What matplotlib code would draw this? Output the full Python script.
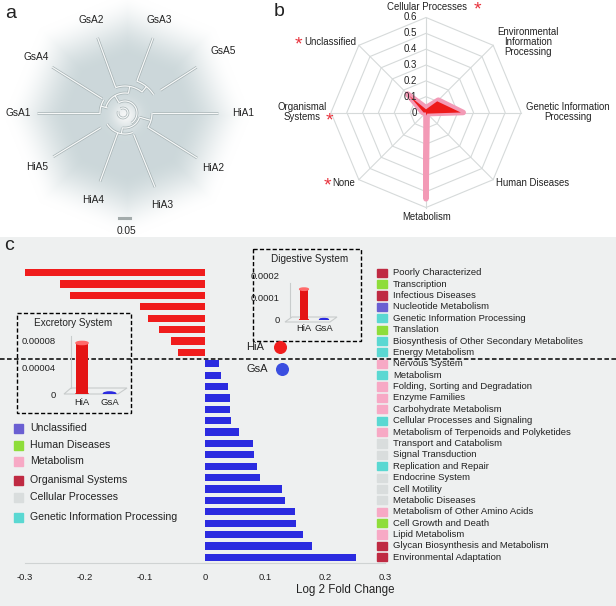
import numpy as np
import matplotlib.pyplot as plt
from matplotlib.patches import Rectangle, Ellipse, Polygon
from matplotlib.transforms import blended_transform_factory

plt.rcParams['font.family'] = ['Liberation Sans', 'DejaVu Sans']

W, H = 616, 606

# ---- panel a: tree ----
leaf_names = ['GsA2', 'GsA3', 'GsA5', 'GsA4', 'GsA1', 'HiA1', 'HiA2', 'HiA3', 'HiA4', 'HiA5']
leaf_angles = [110, 69.5, 32.6, 147.8, 180, 0, -32, -68, -110, -148.6]
leaf_base = [27, 34, 42, 27, 25, 27, 27, 23, 21, 28]
leaf_tip = [80, 80, 85, 86, 88, 93, 85, 80, 73, 84]
# internal arcs (radius, from angle, to angle) and stems (angle, r0, r1)
tree_arcs = [(34, 32.6, 69.5), (27, 51, 110), (25, 147.8, 180), (20, 80, 164),
             (27, -32, 0), (21, -148.6, -68), (15, -100, -16), (12, -58, 120)]
tree_stems = [(51, 27, 34), (80, 20, 27), (164, 18, 25), (120, 12, 20),
              (-16, 15, 27), (-100, 15, 21)]

# ---- panel b: radar ----
radar_cats = ['Cellular Processes', 'Environmental\nInformation\nProcessing',
              'Genetic Information\nProcessing', 'Human Diseases', 'Metabolism',
              'None', 'Organismal\nSystems', 'Unclassified']
radar_pink = [0.03, 0.11, 0.235, 0.01, 0.545, 0.0, 0.02, 0.165]
radar_red = [0.02, 0.10, 0.22, 0.01, 0.02, 0.0, 0.015, 0.15]
radar_ticks = [0, 0.1, 0.2, 0.3, 0.4, 0.5, 0.6]

# ---- panel c: bars ----
row_labels = ['Poorly Characterized', 'Transcription', 'Infectious Diseases',
              'Nucleotide Metabolism', 'Genetic Information Processing', 'Translation',
              'Biosynthesis of Other Secondary Metabolites', 'Energy Metabolism',
              'Nervous System', 'Metabolism', 'Folding, Sorting and Degradation',
              'Enzyme Families', 'Carbohydrate Metabolism', 'Cellular Processes and Signaling',
              'Metabolism of Terpenoids and Polyketides', 'Transport and Catabolism',
              'Signal Transduction', 'Replication and Repair', 'Endocrine System',
              'Cell Motility', 'Metabolic Diseases', 'Metabolism of Other Amino Acids',
              'Cell Growth and Death', 'Lipid Metabolism',
              'Glycan Biosynthesis and Metabolism', 'Environmental Adaptation']
row_values = [-0.300, -0.242, -0.225, -0.108, -0.095, -0.077, -0.056, -0.045,
              0.023, 0.026, 0.039, 0.041, 0.041, 0.043, 0.057, 0.080, 0.081,
              0.087, 0.091, 0.128, 0.134, 0.150, 0.151, 0.163, 0.179, 0.251]
row_groups = ['org', 'hum', 'org', 'unc', 'gen', 'hum', 'gen', 'gen',
              'met', 'gen', 'met', 'met', 'met', 'gen', 'met', 'cel',
              'cel', 'gen', 'cel', 'cel', 'cel', 'met', 'hum', 'met', 'org', 'org']
legend_keys = ['unc', 'hum', 'met', 'org', 'cel', 'gen']
legend_names = ['Unclassified', 'Human Diseases', 'Metabolism', 'Organismal Systems',
                'Cellular Processes', 'Genetic Information Processing']
group_colors = {'unc': '#6a5fd2', 'hum': '#8edd3a', 'met': '#f7a9c5',
                'org': '#bf2a42', 'cel': '#d9dddd', 'gen': '#5ad8d2'}

inset_groups = ['HiA', 'GsA']
excretory = [0.000077, 0.0000006]
digestive = [0.000140, 0.0000012]

fig = plt.figure(figsize=(6.16, 6.06), dpi=100)


def px_axes(x0, y0, x1, y1, z=0):
    return fig.add_axes([x0 / W, 1 - y1 / H, (x1 - x0) / W, (y1 - y0) / H], zorder=z)


bg = px_axes(0, 0, W, H, 0)
bg.axis('off')

# panel c background
bg.add_patch(Rectangle((0, 237), W, H - 237, color='#eef0f0', lw=0))

# --- tree background gradient (octagonal glow)
cx, cy = 127, 115
xx, yy = np.meshgrid(np.arange(0, 265), np.arange(0, 237))
dx, dy = xx - cx, cy - yy
d = np.zeros_like(dx, dtype=float)
for k in range(8):
    th = np.deg2rad(22.5 + 45 * k)
    d = np.maximum(d, dx * np.cos(th) + dy * np.sin(th))
d = d / (118 * np.cos(np.deg2rad(22.5)))
t = np.clip((d - 0.5) / 0.55, 0, 1)
t = t * t * (3 - 2 * t)
glow = np.exp(-((dx + 2) ** 2 + dy ** 2) / (2 * 9.0 ** 2))
img = np.ones(d.shape + (3,))
base = np.array([0.80, 0.845, 0.855])
for c in range(3):
    v = base[c] + (1 - base[c]) * t
    img[..., c] = v + (0.98 - v) * glow * 0.9
bg.imshow(img, extent=(0, 265, 237, 0), zorder=0, interpolation='bilinear')
bg.set_xlim(0, W)
bg.set_ylim(H, 0)

tc = (125, 113)


def polar_pt(ang, r):
    a = np.deg2rad(ang)
    return tc[0] + r * np.cos(a), tc[1] - r * np.sin(a)


def tree_line(xs, ys):
    bg.plot(xs, ys, color='#a6b2b4', lw=1.9, zorder=2, solid_capstyle='butt')
    bg.plot(xs, ys, color='#f6f8f8', lw=0.9, zorder=3, solid_capstyle='butt')


label_gap = [19, 19, 31, 19, 19, 25, 19, 19, 20, 19]
for name, ang, r0, r1, gap in zip(leaf_names, leaf_angles, leaf_base, leaf_tip, label_gap):
    p0, p1 = polar_pt(ang, r0), polar_pt(ang, r1)
    tree_line([p0[0], p1[0]], [p0[1], p1[1]])
    lx, ly = polar_pt(ang, r1 + gap)
    bg.text(lx, ly, name, fontsize=7.3, ha='center', va='center', color='#222222', zorder=4)
for r, a0, a1 in tree_arcs:
    aa = np.linspace(a0, a1, 40)
    pts = np.array([polar_pt(a, r) for a in aa])
    tree_line(pts[:, 0], pts[:, 1])
for ang, r0, r1 in tree_stems:
    p0, p1 = polar_pt(ang, r0), polar_pt(ang, r1)
    tree_line([p0[0], p1[0]], [p0[1], p1[1]])
aa = np.linspace(-200, 120, 40)
pts = np.array([polar_pt(a, 5) for a in aa]) + np.array([-2, 0])
tree_line(pts[:, 0], pts[:, 1])

bg.plot([119, 130], [218, 218], color='#a3abab', lw=2.2)
bg.text(126, 231, '0.05', fontsize=7.3, ha='center', va='center', color='#222222')
bg.text(11, 13, 'a', fontsize=14, ha='center', va='center', color='#222222')

# --- radar
rc = (426, 112.5)
rs = 95 / 0.6
n = len(radar_cats)
angs = np.deg2rad(np.arange(n) * 360 / n)


def rpt(vals):
    v = np.asarray(vals)
    return rc[0] + v * rs * np.sin(angs), rc[1] - v * rs * np.cos(angs)


for tv in radar_ticks[1:]:
    gx, gy = rpt([tv] * n)
    bg.add_patch(Polygon(np.c_[gx, gy], closed=True, fill=False, ec='#d6dada', lw=0.8, zorder=1))
ox, oy = rpt([0.6] * n)
for k in range(n):
    bg.plot([rc[0], ox[k]], [rc[1], oy[k]], color='#d6dada', lw=0.8, zorder=1)
for tv in radar_ticks:
    bg.text(rc[0] - 9, rc[1] - tv * rs, f'{tv:g}', fontsize=7, ha='right', va='center',
            color='#222222', zorder=6)

px_, py_ = rpt(radar_pink)
bg.add_patch(Polygon(np.c_[px_, py_], closed=True, fc='#f8b6cb', ec='#f39ab6', lw=4,
                     joinstyle='round', zorder=3))
qx, qy = rpt(radar_red)
bg.add_patch(Polygon(np.c_[qx, qy], closed=True, fc='#ee1a1a', ec='none', zorder=4))

radar_label_xy = [(427, 7), (528, 42), (568, 112), (533, 183), (427, 217),
                  (344, 183), (302, 112), (330, 42)]
for lab, (lx, ly) in zip(radar_cats, radar_label_xy):
    bg.text(lx, ly, lab, fontsize=6.9, ha='center', va='center', color='#222222',
            linespacing=1.05, zorder=6)
star_xy = [(477, 10), (298, 45), (329, 121), (327, 186)]
for sx, sy in star_xy:
    bg.text(sx, sy, '*', fontsize=14, ha='center', va='center', color='#e8323c',
            zorder=6)
bg.text(279, 11, 'b', fontsize=14, ha='center', va='center', color='#222222')

# ---- panel c main bars
ax = px_axes(25, 262, 385, 563, 1)
ax.patch.set_alpha(0)
rows = np.arange(len(row_values))
colors = ['#f01c1c' if v < 0 else '#2b2be0' for v in row_values]
ax.barh(rows, row_values, height=0.64, color=colors)
ax.set_xlim(-0.3, 0.3)
ax.set_ylim(25.5, -0.94)
ax.set_yticks([])
ax.set_xticks([-0.3, -0.2, -0.1, 0, 0.1, 0.2, 0.3])
ax.set_xticklabels(['-0.3', '-0.2', '-0.1', '0', '0.1', '0.2', '0.3'])
ax.tick_params(axis='x', length=0, pad=7, labelsize=6.8, labelcolor='#222222')
for s in ['top', 'left', 'right']:
    ax.spines[s].set_visible(False)
ax.spines['bottom'].set_color('#cfd3d3')
ax.spines['bottom'].set_linewidth(0.8)

tr = blended_transform_factory(fig.transFigure, ax.transData)
for i, (lab, g) in enumerate(zip(row_labels, row_groups)):
    ax.add_patch(Rectangle((377 / W, i - 0.36), 10 / W, 0.72, transform=tr,
                           color=group_colors[g], clip_on=False))
    ax.text(393 / W, i, lab, transform=tr, fontsize=6.8, va='center', ha='left',
            color='#222222', clip_on=False)

# ---- overlay
ov = px_axes(0, 0, W, H, 2)
ov.patch.set_alpha(0)
ov.set_xlim(0, W)
ov.set_ylim(H, 0)
ov.axis('off')

ov.text(9, 246, 'c', fontsize=14, ha='center', va='center', color='#222222')
ov.plot([0, W], [359, 359], color='black', lw=1.1, ls=(0, (3, 1.6)))
ov.text(345, 590, 'Log 2 Fold Change', fontsize=8.3, ha='center', va='center', color='#222222')

legend_y = [428, 445, 461, 480, 497, 517]
for k, nm, y in zip(legend_keys, legend_names, legend_y):
    ov.add_patch(Rectangle((14, y - 4.5), 9, 9, color=group_colors[k]))
    ov.text(30, y, nm, fontsize=7.6, va='center', ha='left', color='#222222')

ov.scatter([280], [347], s=70, color='#f01c1c', zorder=5)
ov.scatter([282], [369], s=70, color='#3a4ee0', zorder=5)
ov.text(255, 347, 'HiA', fontsize=8, ha='center', va='center', color='#222222')
ov.text(257, 369, 'GsA', fontsize=8, ha='center', va='center', color='#222222')

ov.add_patch(Rectangle((17, 313), 114, 100, fill=False, ec='black', lw=1, ls=(0, (3, 1.6))))
ov.text(73, 323, 'Excretory System', fontsize=7.2, ha='center', va='center', color='#222222')
ov.add_patch(Rectangle((253, 249), 108, 92, fill=False, ec='black', lw=1, ls=(0, (3, 1.6))))
ov.text(310, 259, 'Digestive System', fontsize=7.2, ha='center', va='center', color='#222222')


def inset(box, vals, ylim, ticks, ticklabels, xlim, frame_x, floor):
    a = px_axes(*box, z=3)
    a.patch.set_alpha(0)
    a.set_xlim(*xlim)
    a.set_ylim(*ylim)
    for s in a.spines.values():
        s.set_visible(False)
    a.set_yticks(ticks)
    a.set_yticklabels(ticklabels)
    a.set_xticks([0, 1])
    a.set_xticklabels(inset_groups)
    a.tick_params(length=0, labelsize=6.8, labelcolor='#222222')
    a.tick_params(axis='y', pad=3)
    a.tick_params(axis='x', pad=3)
    a.plot(*frame_x, transform=ov.transData, color='#c8cccc', lw=0.8, clip_on=False)
    a.add_patch(Polygon(floor, closed=True, fill=False, ec='#c8cccc', lw=0.8,
                        transform=ov.transData, clip_on=False))
    w = 0.44
    cap = (ylim[1] - ylim[0]) * 0.05
    cols = [('#e41414', '#ff6a6a'), ('#2b2be0', '#5a6af0')]
    for x, v, (c, ct) in zip([0, 1], vals, cols):
        a.bar(x, v, width=w, color=c, zorder=3)
        a.add_patch(Ellipse((x, 0), w, cap, color=c, zorder=3))
        a.add_patch(Ellipse((x, v), w, cap, color=ct if v > ylim[1] * 0.1 else c, zorder=4))
    return a


inset((60, 330, 128, 394), excretory, (0, 0.0000966), [0, 0.00004, 0.00008],
      ['0', '0.00004', '0.00008'], (-0.8, 1.67),
      ([71, 71], [336, 388]), [(64, 394), (118, 394), (127, 388), (71, 388)])
inset((284, 272, 340, 320), digestive, (0, 0.000218), [0, 0.0001, 0.0002],
      ['0', '0.0001', '0.0002'], (-1.0, 1.8),
      ([290, 290], [283, 317]), [(285, 322), (330, 322), (337, 317), (292, 317)])

fig.savefig('out.png', dpi=100)
